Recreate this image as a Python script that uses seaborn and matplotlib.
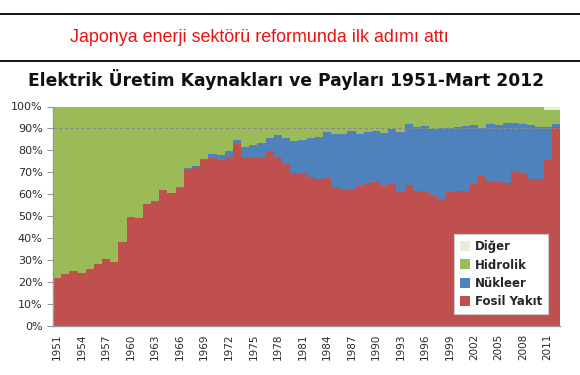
import matplotlib
matplotlib.use("Agg")
import matplotlib.pyplot as plt
from matplotlib.lines import Line2D
from matplotlib.ticker import FixedLocator
import seaborn as sns
import pandas as pd

# shares in percent
years = list(range(1951, 2013))

fosil = [21.5, 23.4, 24.9, 23.8, 25.8, 28.2, 30.4, 28.8, 38.0, 49.7,
         49.1, 55.5, 56.8, 61.9, 60.5, 62.9, 71.5, 72.5, 75.6, 76.6,
         75.6, 77.1, 82.7, 77.1, 76.8, 76.3, 79.7, 76.3, 73.9, 69.6,
         69.6, 67.9, 67.0, 67.5, 63.1, 62.5, 62.5, 63.7, 64.9, 65.5,
         63.8, 64.9, 61.0, 64.0, 61.3, 61.0, 59.3, 57.9, 61.1, 61.4,
         61.6, 64.6, 68.3, 66.0, 65.7, 65.2, 70.5, 69.5, 66.7, 66.7,
         75.6, 90.5]

nukleer = [0, 0, 0, 0, 0, 0, 0, 0, 0, 0,
           0, 0, 0, 0, 0, 0.3, 0.4, 0.2, 0.3, 1.6,
           2.1, 2.6, 2.0, 4.5, 5.5, 6.9, 6.1, 10.5, 11.6, 14.6,
           15.2, 17.9, 19.2, 21.0, 24.2, 24.8, 26.3, 23.6, 23.3, 23.3,
           24.2, 24.8, 27.5, 28.0, 29.2, 30.1, 30.6, 32.2, 29.3, 29.4,
           29.5, 26.8, 22.1, 26.0, 25.8, 27.4, 21.8, 22.5, 25.0, 24.1,
           15.2, 1.5]

hidrolik = [78.5, 76.6, 75.1, 76.2, 74.2, 71.8, 69.6, 71.2, 62.0, 50.3,
            50.9, 44.5, 43.2, 38.1, 39.5, 36.8, 28.1, 27.3, 24.1, 21.8,
            22.3, 20.3, 15.3, 18.4, 17.7, 16.8, 14.2, 13.2, 14.5, 15.8,
            15.2, 14.2, 13.8, 11.5, 12.7, 12.7, 11.2, 12.7, 11.8, 11.2,
            12.0, 10.3, 11.5, 7.6, 9.1, 8.5, 9.7, 9.5, 9.2, 8.8,
            8.5, 8.2, 9.2, 7.6, 8.1, 7.0, 7.3, 7.6, 7.9, 8.8,
            7.7, 6.5]

diger = [0] * 43 + [0.4] * 17 + [1.5, 1.5]

labels = ["Fosil Yakıt", "Nükleer", "Hidrolik", "Diğer"]
colors = ["#C0504D", "#4F81BD", "#9BBB59", "#E6EED6"]

df = pd.DataFrame({"year": [str(y) for y in years], "Fosil Yakıt": fosil,
                   "Nükleer": nukleer, "Hidrolik": hidrolik, "Diğer": diger})

sns.set_style("white")
plt.rcParams["font.family"] = ["DejaVu Sans"]

fig = plt.figure(figsize=(5.8, 3.75), dpi=100)
ax = fig.add_axes([0.0914, 0.132, 0.8741, 0.584])

# stacked bars: draw cumulative totals from the top layer down
cum = df[labels].cumsum(axis=1)
for name, col in reversed(list(zip(labels, colors))):
    sns.barplot(x=df["year"], y=cum[name], color=col, saturation=1,
                width=1, linewidth=0, errorbar=None, ax=ax)

ax.axhline(90, color="#8a8a8a", ls=(0, (3, 2)), lw=0.8, zorder=5)

ax.set_xlim(-0.5, len(years) - 0.5)
ax.set_ylim(0, 100)
ax.set_xlabel("")
ax.set_ylabel("")

ax.set_yticks(range(0, 101, 10))
ax.set_yticklabels([f"{v}%" for v in range(0, 101, 10)], fontsize=8,
                   color="#2a2a2a")
ax.set_xticks(range(0, len(years), 3))
ax.set_xticklabels([str(y) for y in years[::3]], rotation=90, fontsize=7.5,
                   color="#2a2a2a")
ax.xaxis.set_minor_locator(FixedLocator([i - 0.5 for i in range(len(years) + 1)]))
ax.tick_params(axis="x", which="major", length=0, pad=6)
ax.tick_params(axis="x", which="minor", length=3, color="#999999", direction="out")
ax.tick_params(axis="y", length=4, color="#999999", direction="out", left=True)

for s in ["top", "right"]:
    ax.spines[s].set_visible(False)
for s in ["left", "bottom"]:
    ax.spines[s].set_color("#999999")
    ax.spines[s].set_linewidth(1.0)

handles = [Line2D([], [], marker="s", ls="", markersize=7, color=c, markeredgewidth=0)
           for c in colors]
leg = ax.legend(handles[::-1], labels[::-1], loc="lower right",
                bbox_to_anchor=(0.988, 0.025), frameon=True, fancybox=False,
                framealpha=1, facecolor="white",
                prop={"weight": "bold", "size": 8.5}, handletextpad=0.3,
                labelspacing=0.45, borderpad=0.5, handlelength=1.0)
leg.get_frame().set_edgecolor("#cccccc")
leg.get_frame().set_linewidth(0.8)
leg.set_zorder(10)

# header lines and texts
for yy in [1 - 13.5 / 375, 1 - 60.5 / 375]:
    fig.add_artist(Line2D([0, 1], [yy, yy], transform=fig.transFigure,
                          color="black", lw=1.3))
fig.text(0.448, 1 - 37 / 375, "Japonya enerji sektörü reformunda ilk adımı attı",
         ha="center", va="center", color="#ee1111", fontsize=12.9,
         family=["Liberation Sans", "DejaVu Sans"])
fig.text(0.494, 1 - 80 / 375, "Elektrik Üretim Kaynakları ve Payları 1951-Mart 2012",
         ha="center", va="center", color="#111111", fontsize=12.3, weight="bold")

fig.savefig("out.png", dpi=100)
